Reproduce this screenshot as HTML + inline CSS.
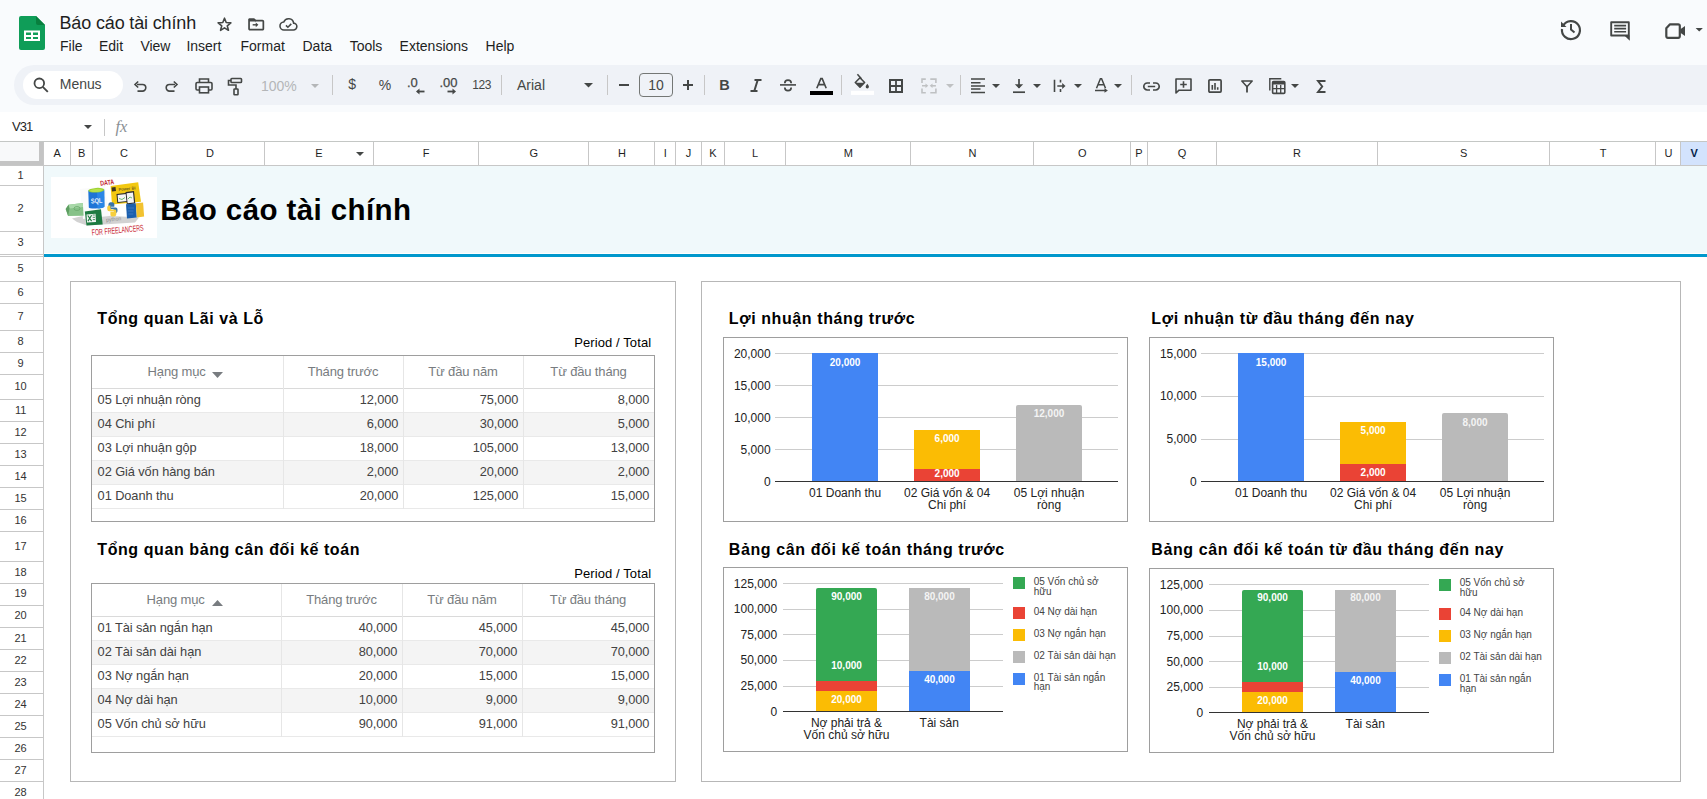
<!DOCTYPE html><html><head><meta charset="utf-8"><style>
html,body{margin:0;padding:0;}
body{width:1707px;height:799px;overflow:hidden;position:relative;background:#f9fbfd;font-family:"Liberation Sans", sans-serif;}
div{box-sizing:border-box;}
svg{position:absolute;overflow:visible;}
</style></head><body>
<svg style="left:19px;top:16px" width="26" height="34" viewBox="0 0 26 34">
<path d="M2 0H17L26 9V32a2 2 0 0 1-2 2H2a2 2 0 0 1-2-2V2a2 2 0 0 1 2-2z" fill="#0f9d58"/>
<path d="M17 0L26 9H19a2 2 0 0 1-2-2z" fill="#087f3e"/>
<path d="M5 14.5H21V25H5z" fill="#fff"/>
<path d="M7 16.5H12V19H7zM14 16.5H19V19H14zM7 21H12V23H7zM14 21H19V23H14z" fill="#0f9d58"/>
</svg>
<div style="position:absolute;left:59.50px;top:12.85px;font-size:18px;line-height:21px;color:#1f1f1f;font-weight:normal;letter-spacing:-0.15px;white-space:nowrap;">Báo cáo tài chính</div>
<svg style="left:216.5px;top:16.5px" width="15" height="15" viewBox="0 0 15 15"><path d="M7.50 1.20 L9.20 5.55 L13.87 5.83 L10.26 8.80 L11.44 13.32 L7.50 10.80 L3.56 13.32 L4.74 8.80 L1.13 5.83 L5.80 5.55Z" fill="none" stroke="#444746" stroke-width="1.6" stroke-linejoin="round"/></svg>
<svg style="left:248px;top:17.6px" width="16.4" height="12.4" viewBox="0 0 17 13"><path d="M1 1.4h5.2l1.6 1.4h7.3a.9 .9 0 0 1 .9 .9v7.6a.9 .9 0 0 1-.9 .9H1.9a.9 .9 0 0 1-.9-.9z" fill="none" stroke="#444746" stroke-width="1.8" stroke-linejoin="round"/><path d="M1 0.6h5.5l1.6 1.5v1.6H1z" fill="#444746"/><path d="M4.8 6.4h3.6v1.5H4.8z" fill="#444746"/><path d="M8 4.6l2.8 2.55L8 9.7z" fill="#444746"/></svg>
<svg style="left:279px;top:16px" width="19" height="16" viewBox="0 0 24 20"><path d="M6.5 17.5h11.5a4.3 4.3 0 0 0 .5-8.6A6.5 6.5 0 0 0 6 7.5a5 5 0 0 0 .5 10z" fill="none" stroke="#444746" stroke-width="2"/><path d="M8.8 11.7l2.4 2.4 4.3-4.3" fill="none" stroke="#444746" stroke-width="2"/></svg>
<div style="position:absolute;left:60.00px;top:38.37px;font-size:14px;line-height:16px;color:#1f1f1f;font-weight:normal;letter-spacing:0px;white-space:nowrap;">File</div>
<div style="position:absolute;left:99.00px;top:38.37px;font-size:14px;line-height:16px;color:#1f1f1f;font-weight:normal;letter-spacing:0px;white-space:nowrap;">Edit</div>
<div style="position:absolute;left:140.40px;top:38.37px;font-size:14px;line-height:16px;color:#1f1f1f;font-weight:normal;letter-spacing:0px;white-space:nowrap;">View</div>
<div style="position:absolute;left:186.40px;top:38.37px;font-size:14px;line-height:16px;color:#1f1f1f;font-weight:normal;letter-spacing:0px;white-space:nowrap;">Insert</div>
<div style="position:absolute;left:240.50px;top:38.37px;font-size:14px;line-height:16px;color:#1f1f1f;font-weight:normal;letter-spacing:0px;white-space:nowrap;">Format</div>
<div style="position:absolute;left:302.50px;top:38.37px;font-size:14px;line-height:16px;color:#1f1f1f;font-weight:normal;letter-spacing:0px;white-space:nowrap;">Data</div>
<div style="position:absolute;left:349.70px;top:38.37px;font-size:14px;line-height:16px;color:#1f1f1f;font-weight:normal;letter-spacing:0px;white-space:nowrap;">Tools</div>
<div style="position:absolute;left:399.60px;top:38.37px;font-size:14px;line-height:16px;color:#1f1f1f;font-weight:normal;letter-spacing:0px;white-space:nowrap;">Extensions</div>
<div style="position:absolute;left:485.60px;top:38.37px;font-size:14px;line-height:16px;color:#1f1f1f;font-weight:normal;letter-spacing:0px;white-space:nowrap;">Help</div>
<svg style="left:1559px;top:17px" width="24" height="24" viewBox="0 0 24 24"><path d="M4.2 8.5A9 9 0 1 1 3 12" fill="none" stroke="#444746" stroke-width="2.2"/><path d="M2 4.5v5.5h5.5z" fill="#444746"/><path d="M12 7v5.5l3.5 3" fill="none" stroke="#444746" stroke-width="2"/></svg>
<svg style="left:1609px;top:20px" width="22" height="22" viewBox="0 0 22 22"><path d="M2.2 2.2h17.6v13.3H2.2z" fill="none" stroke="#444746" stroke-width="1.9" stroke-linejoin="round"/><path d="M15.3 15.4h5.5v5.4z" fill="#444746"/><path d="M5.2 5.65h11.9M5.2 8.6h11.9M5.2 11.7h11.9" stroke="#444746" stroke-width="1.6"/></svg>
<svg style="left:1664px;top:22px" width="42" height="18" viewBox="0 0 42 18"><path d="M6 2.3h8.3a1.5 1.5 0 0 1 1.5 1.5v10.5a1.5 1.5 0 0 1-1.5 1.5H3.8a1.5 1.5 0 0 1-1.5-1.5V6.3z" fill="none" stroke="#444746" stroke-width="2.2" stroke-linejoin="round"/><path d="M16.3 7.3L21 4.1V13.9L16.3 10.7z" fill="#444746"/><path d="M31.6 6.1h7.3l-3.65 3.4z" fill="#444746"/></svg>
<div style="position:absolute;left:14px;top:65px;width:1720px;height:40px;background:#eff2f7;border-radius:20px;"></div>
<div style="position:absolute;left:23px;top:71px;width:100px;height:28px;background:#ffffff;border-radius:14px;"></div>
<svg style="left:33px;top:77px" width="16" height="16" viewBox="0 0 16 16"><circle cx="6.3" cy="6.3" r="4.8" fill="none" stroke="#444746" stroke-width="1.8"/><path d="M9.8 9.8l5 5" stroke="#444746" stroke-width="1.9"/></svg>
<div style="position:absolute;left:59.80px;top:76.07px;font-size:14px;line-height:16px;color:#444746;font-weight:normal;letter-spacing:-0.05px;white-space:nowrap;">Menus</div>
<svg style="left:133px;top:79px" width="14" height="14" viewBox="0 0 14 14"><path d="M4 5.5h5.5a3.3 3.3 0 0 1 0 6.6H4.5" fill="none" stroke="#444746" stroke-width="1.6"/><path d="M5.2 2.5L2 5.5l3.2 3" fill="none" stroke="#444746" stroke-width="1.6"/></svg>
<svg style="left:165px;top:79px" width="14" height="14" viewBox="0 0 14 14"><path d="M10 5.5H4.5a3.3 3.3 0 0 0 0 6.6H9.5" fill="none" stroke="#444746" stroke-width="1.6"/><path d="M8.8 2.5L12 5.5l-3.2 3" fill="none" stroke="#444746" stroke-width="1.6"/></svg>
<svg style="left:195px;top:78px" width="18" height="16" viewBox="0 0 18 16"><path d="M4.5 4.5V1h9v3.5" fill="none" stroke="#444746" stroke-width="1.6"/><rect x="1" y="4.5" width="16" height="7.5" rx="1.2" fill="none" stroke="#444746" stroke-width="1.6"/><rect x="4.5" y="9" width="9" height="5.8" fill="#eff2f7" stroke="#444746" stroke-width="1.6"/></svg>
<svg style="left:227px;top:77px" width="16" height="19" viewBox="0 0 16 19"><rect x="4" y="1.5" width="10.5" height="4" rx="0.8" fill="none" stroke="#444746" stroke-width="1.6"/><path d="M4 3.5H1.5v4.5h7.5v4" fill="none" stroke="#444746" stroke-width="1.6"/><rect x="7" y="12" width="4" height="5.8" rx="0.6" fill="none" stroke="#444746" stroke-width="1.6"/></svg>
<div style="position:absolute;left:261.00px;top:78.07px;font-size:14px;line-height:16px;color:#b4b6b8;font-weight:normal;letter-spacing:0px;white-space:nowrap;">100%</div>
<svg style="left:311px;top:84px" width="8" height="4" viewBox="0 0 8 4"><path d="M0 0h8L4 4z" fill="#b4b6b8"/></svg>
<div style="position:absolute;left:332px;top:75px;width:1px;height:20px;background:#c7c7c7;"></div>
<div style="position:absolute;left:348.20px;top:76.17px;font-size:14px;line-height:16px;color:#444746;font-weight:normal;letter-spacing:0px;white-space:nowrap;font-weight:500;">$</div>
<div style="position:absolute;left:378.80px;top:76.57px;font-size:14px;line-height:16px;color:#444746;font-weight:normal;letter-spacing:0px;white-space:nowrap;">%</div>
<div style="position:absolute;left:407.00px;top:75.40px;font-size:13px;line-height:15px;color:#444746;font-weight:normal;letter-spacing:0px;white-space:nowrap;-webkit-text-stroke:0.25px #444746;">.0</div>
<svg style="left:415px;top:87.5px" width="10" height="7" viewBox="0 0 10 7"><path d="M9.5 3.5H2.5" stroke="#444746" stroke-width="1.8"/><path d="M4.5 0.5L1 3.5 4.5 6.5z" fill="#444746"/></svg>
<div style="position:absolute;left:439.50px;top:75.40px;font-size:13px;line-height:15px;color:#444746;font-weight:normal;letter-spacing:0px;white-space:nowrap;-webkit-text-stroke:0.25px #444746;">.00</div>
<svg style="left:447px;top:87.5px" width="10" height="7" viewBox="0 0 10 7"><path d="M0.5 3.5h6.5" stroke="#444746" stroke-width="1.8"/><path d="M5.5 0.5L9 3.5 5.5 6.5z" fill="#444746"/></svg>
<div style="position:absolute;left:472.30px;top:78.23px;font-size:12px;line-height:14px;color:#444746;font-weight:normal;letter-spacing:-0.4px;white-space:nowrap;">123</div>
<div style="position:absolute;left:501px;top:75px;width:1px;height:20px;background:#c7c7c7;"></div>
<div style="position:absolute;left:517.00px;top:76.97px;font-size:14px;line-height:16px;color:#444746;font-weight:normal;letter-spacing:0px;white-space:nowrap;">Arial</div>
<svg style="left:584px;top:83px" width="9" height="5" viewBox="0 0 9 5"><path d="M0 0h9L4.5 4.5z" fill="#444746"/></svg>
<div style="position:absolute;left:607px;top:75px;width:1px;height:20px;background:#c7c7c7;"></div>
<div style="position:absolute;left:619px;top:83.8px;width:10px;height:2px;background:#444746;"></div>
<div style="position:absolute;left:639px;top:73px;width:34px;height:23.7px;background:transparent;border:1px solid #747775;border-radius:4px;"></div>
<div style="position:absolute;left:356.00px;width:600px;text-align:center;top:77.47px;font-size:14px;line-height:16px;color:#444746;font-weight:normal;letter-spacing:0px;white-space:nowrap;">10</div>
<div style="position:absolute;left:683px;top:83.9px;width:10px;height:2px;background:#444746;"></div>
<div style="position:absolute;left:687px;top:79.8px;width:2px;height:10.3px;background:#444746;"></div>
<div style="position:absolute;left:704px;top:75px;width:1px;height:20px;background:#c7c7c7;"></div>
<div style="position:absolute;left:719.30px;top:77.41px;font-size:14.5px;line-height:17px;color:#444746;font-weight:bold;letter-spacing:0px;white-space:nowrap;">B</div>
<svg style="left:750px;top:79px" width="12" height="13" viewBox="0 0 12 13"><path d="M4.5 1h7M0.5 12h7M7.7 1L4.3 12" fill="none" stroke="#444746" stroke-width="2"/></svg>
<svg style="left:780px;top:78px" width="16" height="15" viewBox="0 0 16 15"><path d="M0 6.9h16" stroke="#444746" stroke-width="1.6"/><path d="M4.8 5.2a3.2 3.1 0 0 1 6.4 0" fill="none" stroke="#444746" stroke-width="1.7"/><path d="M4.8 9.5a3.2 3.1 0 0 0 6.4 0" fill="none" stroke="#444746" stroke-width="1.7"/></svg>
<svg style="left:815.5px;top:78px" width="11" height="11" viewBox="0 0 11 11"><path d="M0.8 10.2L4.8 0.6h1.4l4 9.6M2.6 6.6h5.8" fill="none" stroke="#444746" stroke-width="1.6"/></svg>
<div style="position:absolute;left:810px;top:90.8px;width:23px;height:4.1px;background:#000000;"></div>
<div style="position:absolute;left:841px;top:75px;width:1px;height:20px;background:#c7c7c7;"></div>
<svg style="left:851px;top:74px" width="23" height="21" viewBox="0 0 23 21"><path d="M6.4 0.2l4 4.5" stroke="#444746" stroke-width="1.5"/><path d="M9 3.8l4.6 4.7-4.6 4.6-4.7-4.6z" fill="none" stroke="#444746" stroke-width="1.6" stroke-linejoin="round"/><path d="M4.6 8.7h8.7L9 13z" fill="#444746"/><path d="M16.3 9.8c1 1.4 1.6 2.3 1.6 3a1.6 1.6 0 0 1-3.2 0c0-.7.6-1.6 1.6-3z" fill="#444746"/><rect x="0" y="16.8" width="23" height="4.1" fill="#ffffff"/></svg>
<svg style="left:889px;top:79px" width="14" height="14" viewBox="0 0 14 14"><rect x="1" y="1" width="12" height="12" fill="none" stroke="#444746" stroke-width="2"/><path d="M7 1v12M1 7h12" stroke="#444746" stroke-width="1.8"/></svg>
<svg style="left:920px;top:77px" width="18" height="17" viewBox="0 0 18 17"><g fill="none" stroke="#bfc1c3" stroke-width="1.6"><path d="M5.8 2.1H2v3.9M5.8 15.7H2v-4.2M10.3 2.1h5.6v3.9M10.3 15.7h5.6v-4.2M2 8.8h4"/><path d="M15.9 8.8h-4"/></g><path d="M5.5 6.5l2.8 2.3-2.8 2.3zM12.5 6.5L9.7 8.8l2.8 2.3z" fill="#bfc1c3"/></svg>
<svg style="left:946px;top:84px" width="8" height="4" viewBox="0 0 8 4"><path d="M0 0h8L4 4z" fill="#bfc1c3"/></svg>
<div style="position:absolute;left:960px;top:75px;width:1px;height:20px;background:#c7c7c7;"></div>
<svg style="left:970px;top:78px" width="16" height="16" viewBox="0 0 16 16"><path d="M1 1.1h14M1 4.8h9.5M1 8h14M1 11.1h9.5M1 14.5h14" stroke="#444746" stroke-width="1.5"/></svg>
<svg style="left:992px;top:84px" width="8" height="4" viewBox="0 0 8 4"><path d="M0 0h8L4 4z" fill="#444746"/></svg>
<svg style="left:1012px;top:78px" width="14" height="16" viewBox="0 0 14 16"><path d="M7 1v9" stroke="#444746" stroke-width="1.7"/><path d="M2.8 6.2L7 10.6l4.2-4.4z" fill="#444746"/><path d="M1 14.2h12" stroke="#444746" stroke-width="1.7"/></svg>
<svg style="left:1033px;top:84px" width="8" height="4" viewBox="0 0 8 4"><path d="M0 0h8L4 4z" fill="#444746"/></svg>
<svg style="left:1053px;top:79px" width="14" height="14" viewBox="0 0 14 14"><path d="M1.5 0.8v12.2M7.5 0.8v2.8M7.5 10.1v2.9M4.3 7h5.5" stroke="#444746" stroke-width="1.6"/><path d="M9.2 4.1L12.5 7l-3.3 2.9z" fill="#444746"/></svg>
<svg style="left:1074px;top:84px" width="8" height="4" viewBox="0 0 8 4"><path d="M0 0h8L4 4z" fill="#444746"/></svg>
<svg style="left:1094px;top:78px" width="15" height="17" viewBox="0 0 15 17"><path d="M2.5 10.2L6.4 0.8h1.2l3.9 9.4M4 6.8h6" fill="none" stroke="#444746" stroke-width="1.5"/><path d="M1 12.5h10.5" stroke="#444746" stroke-width="1.5"/><path d="M10.5 10.3l3.4 2.2-3.4 2.2z" fill="#444746"/></svg>
<svg style="left:1114px;top:84px" width="8" height="4" viewBox="0 0 8 4"><path d="M0 0h8L4 4z" fill="#444746"/></svg>
<div style="position:absolute;left:1131px;top:75px;width:1px;height:20px;background:#c7c7c7;"></div>
<svg style="left:1143px;top:81.5px" width="17" height="9" viewBox="0 0 17 9"><path d="M7 1H4.3a3.5 3.5 0 0 0 0 7H7M10 1h2.7a3.5 3.5 0 0 1 0 7H10M4.8 4.5h7.4" fill="none" stroke="#444746" stroke-width="1.7"/></svg>
<svg style="left:1174.5px;top:78px" width="17" height="16" viewBox="0 0 17 16"><path d="M1 1h15v11.2H4L1 15z" fill="none" stroke="#444746" stroke-width="1.6" stroke-linejoin="round"/><path d="M8.5 3.2v6.6M5.2 6.5h6.6" stroke="#444746" stroke-width="1.6"/></svg>
<svg style="left:1208px;top:79px" width="14" height="14" viewBox="0 0 14 14"><rect x="0.9" y="0.9" width="12.2" height="12.2" rx="1" fill="none" stroke="#444746" stroke-width="1.7"/><path d="M4.3 6v4.8M7 4v6.8M9.7 8.3v2.5" stroke="#444746" stroke-width="1.6"/></svg>
<svg style="left:1241px;top:79.5px" width="12" height="13" viewBox="0 0 12 13"><path d="M0.8 1h10.4L6 6.8z" fill="none" stroke="#444746" stroke-width="1.5" stroke-linejoin="round"/><path d="M6 6.5v6" stroke="#444746" stroke-width="1.8"/></svg>
<svg style="left:1268.5px;top:78px" width="17" height="16" viewBox="0 0 17 16"><path d="M0.8 12.5V0.8h11.5" fill="none" stroke="#444746" stroke-width="1.4"/><rect x="3.6" y="3.6" width="12.2" height="11.8" rx="1" fill="none" stroke="#444746" stroke-width="1.6"/><path d="M3.6 5h12.2" stroke="#444746" stroke-width="3"/><path d="M7.6 7v8M11.7 7v8M3.6 10.6h12.2" stroke="#444746" stroke-width="1.3"/></svg>
<svg style="left:1291px;top:84px" width="8" height="4" viewBox="0 0 8 4"><path d="M0 0h8L4 4z" fill="#444746"/></svg>
<svg style="left:1316.5px;top:79.5px" width="9" height="13" viewBox="0 0 9 13"><path d="M8.5 1H1l4.2 5.5L1 12h7.5" fill="none" stroke="#444746" stroke-width="1.9" stroke-linejoin="miter"/></svg>
<div style="position:absolute;left:0px;top:112px;width:1707px;height:30px;background:#ffffff;"></div>
<div style="position:absolute;left:12.00px;top:119.40px;font-size:13px;line-height:15px;color:#1f1f1f;font-weight:normal;letter-spacing:-0.9px;white-space:nowrap;">V31</div>
<svg style="left:84px;top:125px" width="8" height="4" viewBox="0 0 8 4"><path d="M0 0h8L4 4z" fill="#444746"/></svg>
<div style="position:absolute;left:104px;top:119px;width:1px;height:17px;background:#c7c7c7;"></div>
<div style="position:absolute;left:115.50px;top:116.55px;font-size:16.5px;line-height:19px;color:#8a8f94;font-weight:normal;letter-spacing:0px;white-space:nowrap;font-family:'Liberation Serif',serif;"><i>fx</i></div>
<div style="position:absolute;left:0px;top:141px;width:1707px;height:1px;background:#c4c7c5;"></div>
<div style="position:absolute;left:0px;top:142px;width:1707px;height:23px;background:#ffffff;"></div>
<div style="position:absolute;left:0px;top:142px;width:39px;height:19px;background:#f8f9fa;"></div>
<div style="position:absolute;left:39px;top:142px;width:4px;height:23px;background:#c4c4c4;"></div>
<div style="position:absolute;left:0px;top:161px;width:43px;height:4px;background:#c4c4c4;"></div>
<div style="position:absolute;left:1681px;top:142px;width:26px;height:23px;background:#d3e3fd;"></div>
<div style="position:absolute;left:43px;top:142px;width:1px;height:23px;background:#c7c7c7;"></div>
<div style="position:absolute;left:-242.75px;width:600px;text-align:center;top:147.06px;font-size:11px;line-height:13px;color:#1f1f1f;font-weight:normal;letter-spacing:0px;white-space:nowrap;">A</div>
<div style="position:absolute;left:70px;top:142px;width:1px;height:23px;background:#c7c7c7;"></div>
<div style="position:absolute;left:-218.25px;width:600px;text-align:center;top:147.06px;font-size:11px;line-height:13px;color:#1f1f1f;font-weight:normal;letter-spacing:0px;white-space:nowrap;">B</div>
<div style="position:absolute;left:92px;top:142px;width:1px;height:23px;background:#c7c7c7;"></div>
<div style="position:absolute;left:-176.00px;width:600px;text-align:center;top:147.06px;font-size:11px;line-height:13px;color:#1f1f1f;font-weight:normal;letter-spacing:0px;white-space:nowrap;">C</div>
<div style="position:absolute;left:155px;top:142px;width:1px;height:23px;background:#c7c7c7;"></div>
<div style="position:absolute;left:-90.00px;width:600px;text-align:center;top:147.06px;font-size:11px;line-height:13px;color:#1f1f1f;font-weight:normal;letter-spacing:0px;white-space:nowrap;">D</div>
<div style="position:absolute;left:264px;top:142px;width:1px;height:23px;background:#c7c7c7;"></div>
<div style="position:absolute;left:19.00px;width:600px;text-align:center;top:147.06px;font-size:11px;line-height:13px;color:#1f1f1f;font-weight:normal;letter-spacing:0px;white-space:nowrap;">E</div>
<div style="position:absolute;left:373px;top:142px;width:1px;height:23px;background:#c7c7c7;"></div>
<div style="position:absolute;left:126.00px;width:600px;text-align:center;top:147.06px;font-size:11px;line-height:13px;color:#1f1f1f;font-weight:normal;letter-spacing:0px;white-space:nowrap;">F</div>
<div style="position:absolute;left:478px;top:142px;width:1px;height:23px;background:#c7c7c7;"></div>
<div style="position:absolute;left:233.75px;width:600px;text-align:center;top:147.06px;font-size:11px;line-height:13px;color:#1f1f1f;font-weight:normal;letter-spacing:0px;white-space:nowrap;">G</div>
<div style="position:absolute;left:588px;top:142px;width:1px;height:23px;background:#c7c7c7;"></div>
<div style="position:absolute;left:322.00px;width:600px;text-align:center;top:147.06px;font-size:11px;line-height:13px;color:#1f1f1f;font-weight:normal;letter-spacing:0px;white-space:nowrap;">H</div>
<div style="position:absolute;left:654px;top:142px;width:1px;height:23px;background:#c7c7c7;"></div>
<div style="position:absolute;left:365.25px;width:600px;text-align:center;top:147.06px;font-size:11px;line-height:13px;color:#1f1f1f;font-weight:normal;letter-spacing:0px;white-space:nowrap;">I</div>
<div style="position:absolute;left:675px;top:142px;width:1px;height:23px;background:#c7c7c7;"></div>
<div style="position:absolute;left:388.50px;width:600px;text-align:center;top:147.06px;font-size:11px;line-height:13px;color:#1f1f1f;font-weight:normal;letter-spacing:0px;white-space:nowrap;">J</div>
<div style="position:absolute;left:701px;top:142px;width:1px;height:23px;background:#c7c7c7;"></div>
<div style="position:absolute;left:413.00px;width:600px;text-align:center;top:147.06px;font-size:11px;line-height:13px;color:#1f1f1f;font-weight:normal;letter-spacing:0px;white-space:nowrap;">K</div>
<div style="position:absolute;left:724px;top:142px;width:1px;height:23px;background:#c7c7c7;"></div>
<div style="position:absolute;left:455.00px;width:600px;text-align:center;top:147.06px;font-size:11px;line-height:13px;color:#1f1f1f;font-weight:normal;letter-spacing:0px;white-space:nowrap;">L</div>
<div style="position:absolute;left:785px;top:142px;width:1px;height:23px;background:#c7c7c7;"></div>
<div style="position:absolute;left:548.25px;width:600px;text-align:center;top:147.06px;font-size:11px;line-height:13px;color:#1f1f1f;font-weight:normal;letter-spacing:0px;white-space:nowrap;">M</div>
<div style="position:absolute;left:910px;top:142px;width:1px;height:23px;background:#c7c7c7;"></div>
<div style="position:absolute;left:672.50px;width:600px;text-align:center;top:147.06px;font-size:11px;line-height:13px;color:#1f1f1f;font-weight:normal;letter-spacing:0px;white-space:nowrap;">N</div>
<div style="position:absolute;left:1033px;top:142px;width:1px;height:23px;background:#c7c7c7;"></div>
<div style="position:absolute;left:782.25px;width:600px;text-align:center;top:147.06px;font-size:11px;line-height:13px;color:#1f1f1f;font-weight:normal;letter-spacing:0px;white-space:nowrap;">O</div>
<div style="position:absolute;left:1130px;top:142px;width:1px;height:23px;background:#c7c7c7;"></div>
<div style="position:absolute;left:839.00px;width:600px;text-align:center;top:147.06px;font-size:11px;line-height:13px;color:#1f1f1f;font-weight:normal;letter-spacing:0px;white-space:nowrap;">P</div>
<div style="position:absolute;left:1147px;top:142px;width:1px;height:23px;background:#c7c7c7;"></div>
<div style="position:absolute;left:882.00px;width:600px;text-align:center;top:147.06px;font-size:11px;line-height:13px;color:#1f1f1f;font-weight:normal;letter-spacing:0px;white-space:nowrap;">Q</div>
<div style="position:absolute;left:1216px;top:142px;width:1px;height:23px;background:#c7c7c7;"></div>
<div style="position:absolute;left:997.00px;width:600px;text-align:center;top:147.06px;font-size:11px;line-height:13px;color:#1f1f1f;font-weight:normal;letter-spacing:0px;white-space:nowrap;">R</div>
<div style="position:absolute;left:1377px;top:142px;width:1px;height:23px;background:#c7c7c7;"></div>
<div style="position:absolute;left:1163.75px;width:600px;text-align:center;top:147.06px;font-size:11px;line-height:13px;color:#1f1f1f;font-weight:normal;letter-spacing:0px;white-space:nowrap;">S</div>
<div style="position:absolute;left:1549px;top:142px;width:1px;height:23px;background:#c7c7c7;"></div>
<div style="position:absolute;left:1303.00px;width:600px;text-align:center;top:147.06px;font-size:11px;line-height:13px;color:#1f1f1f;font-weight:normal;letter-spacing:0px;white-space:nowrap;">T</div>
<div style="position:absolute;left:1655px;top:142px;width:1px;height:23px;background:#c7c7c7;"></div>
<div style="position:absolute;left:1368.50px;width:600px;text-align:center;top:147.06px;font-size:11px;line-height:13px;color:#1f1f1f;font-weight:normal;letter-spacing:0px;white-space:nowrap;">U</div>
<div style="position:absolute;left:1680px;top:142px;width:1px;height:23px;background:#c7c7c7;"></div>
<div style="position:absolute;left:1394.25px;width:600px;text-align:center;top:147.06px;font-size:11px;line-height:13px;color:#041e49;font-weight:bold;letter-spacing:0px;white-space:nowrap;">V</div>
<svg style="left:356px;top:152px" width="8" height="4" viewBox="0 0 8 4"><path d="M0 0h8L4 4z" fill="#444746"/></svg>
<div style="position:absolute;left:0px;top:165px;width:1707px;height:1px;background:#c7c7c7;"></div>
<div style="position:absolute;left:0px;top:166px;width:43px;height:640px;background:#ffffff;"></div>
<div style="position:absolute;left:43px;top:166px;width:1px;height:640px;background:#c7c7c7;"></div>
<div style="position:absolute;left:44px;top:166px;width:1663px;height:640px;background:#ffffff;"></div>
<div style="position:absolute;left:44px;top:166px;width:1663px;height:87px;background:#f0f9fb;"></div>
<div style="position:absolute;left:44px;top:254px;width:1663px;height:3px;background:#0098cc;"></div>
<div style="position:absolute;left:0px;top:185px;width:43px;height:1px;background:#c7c7c7;"></div>
<div style="position:absolute;left:-279.40px;width:600px;text-align:center;top:168.51px;font-size:11px;line-height:13px;color:#333333;font-weight:normal;letter-spacing:0px;white-space:nowrap;">1</div>
<div style="position:absolute;left:0px;top:231px;width:43px;height:1px;background:#c7c7c7;"></div>
<div style="position:absolute;left:-279.40px;width:600px;text-align:center;top:201.61px;font-size:11px;line-height:13px;color:#333333;font-weight:normal;letter-spacing:0px;white-space:nowrap;">2</div>
<div style="position:absolute;left:0px;top:254px;width:43px;height:1px;background:#c7c7c7;"></div>
<div style="position:absolute;left:-279.40px;width:600px;text-align:center;top:235.86px;font-size:11px;line-height:13px;color:#333333;font-weight:normal;letter-spacing:0px;white-space:nowrap;">3</div>
<div style="position:absolute;left:0px;top:281px;width:43px;height:1px;background:#c7c7c7;"></div>
<div style="position:absolute;left:-279.40px;width:600px;text-align:center;top:261.86px;font-size:11px;line-height:13px;color:#333333;font-weight:normal;letter-spacing:0px;white-space:nowrap;">5</div>
<div style="position:absolute;left:0px;top:303px;width:43px;height:1px;background:#c7c7c7;"></div>
<div style="position:absolute;left:-279.40px;width:600px;text-align:center;top:285.66px;font-size:11px;line-height:13px;color:#333333;font-weight:normal;letter-spacing:0px;white-space:nowrap;">6</div>
<div style="position:absolute;left:0px;top:330px;width:43px;height:1px;background:#c7c7c7;"></div>
<div style="position:absolute;left:-279.40px;width:600px;text-align:center;top:310.26px;font-size:11px;line-height:13px;color:#333333;font-weight:normal;letter-spacing:0px;white-space:nowrap;">7</div>
<div style="position:absolute;left:0px;top:352px;width:43px;height:1px;background:#c7c7c7;"></div>
<div style="position:absolute;left:-279.40px;width:600px;text-align:center;top:334.66px;font-size:11px;line-height:13px;color:#333333;font-weight:normal;letter-spacing:0px;white-space:nowrap;">8</div>
<div style="position:absolute;left:0px;top:374px;width:43px;height:1px;background:#c7c7c7;"></div>
<div style="position:absolute;left:-279.40px;width:600px;text-align:center;top:356.61px;font-size:11px;line-height:13px;color:#333333;font-weight:normal;letter-spacing:0px;white-space:nowrap;">9</div>
<div style="position:absolute;left:0px;top:399px;width:43px;height:1px;background:#c7c7c7;"></div>
<div style="position:absolute;left:-279.40px;width:600px;text-align:center;top:380.16px;font-size:11px;line-height:13px;color:#333333;font-weight:normal;letter-spacing:0px;white-space:nowrap;">10</div>
<div style="position:absolute;left:0px;top:421px;width:43px;height:1px;background:#c7c7c7;"></div>
<div style="position:absolute;left:-279.40px;width:600px;text-align:center;top:403.56px;font-size:11px;line-height:13px;color:#333333;font-weight:normal;letter-spacing:0px;white-space:nowrap;">11</div>
<div style="position:absolute;left:0px;top:443px;width:43px;height:1px;background:#c7c7c7;"></div>
<div style="position:absolute;left:-279.40px;width:600px;text-align:center;top:425.51px;font-size:11px;line-height:13px;color:#333333;font-weight:normal;letter-spacing:0px;white-space:nowrap;">12</div>
<div style="position:absolute;left:0px;top:465px;width:43px;height:1px;background:#c7c7c7;"></div>
<div style="position:absolute;left:-279.40px;width:600px;text-align:center;top:447.71px;font-size:11px;line-height:13px;color:#333333;font-weight:normal;letter-spacing:0px;white-space:nowrap;">13</div>
<div style="position:absolute;left:0px;top:487px;width:43px;height:1px;background:#c7c7c7;"></div>
<div style="position:absolute;left:-279.40px;width:600px;text-align:center;top:469.66px;font-size:11px;line-height:13px;color:#333333;font-weight:normal;letter-spacing:0px;white-space:nowrap;">14</div>
<div style="position:absolute;left:0px;top:509px;width:43px;height:1px;background:#c7c7c7;"></div>
<div style="position:absolute;left:-279.40px;width:600px;text-align:center;top:491.56px;font-size:11px;line-height:13px;color:#333333;font-weight:normal;letter-spacing:0px;white-space:nowrap;">15</div>
<div style="position:absolute;left:0px;top:531px;width:43px;height:1px;background:#c7c7c7;"></div>
<div style="position:absolute;left:-279.40px;width:600px;text-align:center;top:513.61px;font-size:11px;line-height:13px;color:#333333;font-weight:normal;letter-spacing:0px;white-space:nowrap;">16</div>
<div style="position:absolute;left:0px;top:561px;width:43px;height:1px;background:#c7c7c7;"></div>
<div style="position:absolute;left:-279.40px;width:600px;text-align:center;top:539.71px;font-size:11px;line-height:13px;color:#333333;font-weight:normal;letter-spacing:0px;white-space:nowrap;">17</div>
<div style="position:absolute;left:0px;top:583px;width:43px;height:1px;background:#c7c7c7;"></div>
<div style="position:absolute;left:-279.40px;width:600px;text-align:center;top:565.71px;font-size:11px;line-height:13px;color:#333333;font-weight:normal;letter-spacing:0px;white-space:nowrap;">18</div>
<div style="position:absolute;left:0px;top:605px;width:43px;height:1px;background:#c7c7c7;"></div>
<div style="position:absolute;left:-279.40px;width:600px;text-align:center;top:587.46px;font-size:11px;line-height:13px;color:#333333;font-weight:normal;letter-spacing:0px;white-space:nowrap;">19</div>
<div style="position:absolute;left:0px;top:627px;width:43px;height:1px;background:#c7c7c7;"></div>
<div style="position:absolute;left:-279.40px;width:600px;text-align:center;top:609.41px;font-size:11px;line-height:13px;color:#333333;font-weight:normal;letter-spacing:0px;white-space:nowrap;">20</div>
<div style="position:absolute;left:0px;top:649px;width:43px;height:1px;background:#c7c7c7;"></div>
<div style="position:absolute;left:-279.40px;width:600px;text-align:center;top:631.56px;font-size:11px;line-height:13px;color:#333333;font-weight:normal;letter-spacing:0px;white-space:nowrap;">21</div>
<div style="position:absolute;left:0px;top:671px;width:43px;height:1px;background:#c7c7c7;"></div>
<div style="position:absolute;left:-279.40px;width:600px;text-align:center;top:653.51px;font-size:11px;line-height:13px;color:#333333;font-weight:normal;letter-spacing:0px;white-space:nowrap;">22</div>
<div style="position:absolute;left:0px;top:693px;width:43px;height:1px;background:#c7c7c7;"></div>
<div style="position:absolute;left:-279.40px;width:600px;text-align:center;top:675.51px;font-size:11px;line-height:13px;color:#333333;font-weight:normal;letter-spacing:0px;white-space:nowrap;">23</div>
<div style="position:absolute;left:0px;top:715px;width:43px;height:1px;background:#c7c7c7;"></div>
<div style="position:absolute;left:-279.40px;width:600px;text-align:center;top:697.66px;font-size:11px;line-height:13px;color:#333333;font-weight:normal;letter-spacing:0px;white-space:nowrap;">24</div>
<div style="position:absolute;left:0px;top:737px;width:43px;height:1px;background:#c7c7c7;"></div>
<div style="position:absolute;left:-279.40px;width:600px;text-align:center;top:719.71px;font-size:11px;line-height:13px;color:#333333;font-weight:normal;letter-spacing:0px;white-space:nowrap;">25</div>
<div style="position:absolute;left:0px;top:759px;width:43px;height:1px;background:#c7c7c7;"></div>
<div style="position:absolute;left:-279.40px;width:600px;text-align:center;top:741.61px;font-size:11px;line-height:13px;color:#333333;font-weight:normal;letter-spacing:0px;white-space:nowrap;">26</div>
<div style="position:absolute;left:0px;top:781px;width:43px;height:1px;background:#c7c7c7;"></div>
<div style="position:absolute;left:-279.40px;width:600px;text-align:center;top:763.51px;font-size:11px;line-height:13px;color:#333333;font-weight:normal;letter-spacing:0px;white-space:nowrap;">27</div>
<div style="position:absolute;left:-279.40px;width:600px;text-align:center;top:786.36px;font-size:11px;line-height:13px;color:#333333;font-weight:normal;letter-spacing:0px;white-space:nowrap;">28</div>
<div style="position:absolute;left:0px;top:254px;width:43px;height:1px;background:#c7c7c7;"></div>
<div style="position:absolute;left:0px;top:256px;width:43px;height:1px;background:#c7c7c7;"></div>
<svg style="left:51px;top:177px" width="106" height="61" viewBox="0 0 106 61">
<rect width="106" height="61" fill="#ffffff"/>
<path d="M21 41.5L36 38 L62 39 L88 40.5 L84 45.5 L36 48.5 L26 45z" fill="#d2d2d2"/>
<path d="M29 12l25-3 4 30-26 3z" fill="#fbfbfb"/>
<path d="M14.7 32.1L17.5 27.7L31.8 26L32.6 38.7L17.1 39z" fill="#86c288"/>
<path d="M17.5 27.7L31.8 26L32 30L18.5 31.5z" fill="#a8d8a8"/>
<path d="M14.7 32.1L17.5 27.7L18.5 31.5L17.1 39z" fill="#5e9e62"/>
<ellipse cx="26" cy="31.5" rx="3" ry="2" fill="none" stroke="#6aa86c" stroke-width="0.8"/>
<path d="M37.3 13.6L53.2 12.6L53.4 29.5C53.4 31.5 38 32.3 37.8 30.5z" fill="#1e74d6"/>
<path d="M46 13L53.2 12.6L53.4 29.5C53.4 30.8 49 31.5 46.5 31.6z" fill="#2a86e6"/>
<ellipse cx="45.2" cy="13.2" rx="7.9" ry="2.3" fill="#9ad22e" transform="rotate(-4 45.2 13.2)"/>
<ellipse cx="45.2" cy="13.4" rx="6.3" ry="1.5" fill="#b8e04a" transform="rotate(-4 45.2 13.4)"/>
<text x="39.7" y="26.2" font-family="Liberation Sans" font-size="7" font-weight="bold" fill="#e8f1fb" textLength="11.5" lengthAdjust="spacingAndGlyphs" transform="rotate(-4 45 23)">SQL</text>
<path d="M33.8 34.5L50 32.3L51.7 47.5L35.5 48.5z" fill="#1d7a40"/>
<path d="M35.5 37.5L44.5 36.7L45 45L36 45.6z" fill="#f4f4f4"/>
<path d="M36.8 38.5l3.8 5.6M40.6 38.3l-3.6 5.8" stroke="#1d7a40" stroke-width="1.1"/>
<path d="M41.6 38h2.3M41.7 40.3h2.3M41.8 42.6h2.3" stroke="#1d7a40" stroke-width="0.8"/>
<path d="M59.6 9L87.2 5.3L90 24.8L61 27.5z" fill="#f2c811"/>
<path d="M60.5 10.5l4-0.5 .5 4-4 .5z" fill="#3a3320"/>
<text x="67.5" y="13.2" font-family="Liberation Sans" font-size="4.2" fill="#3a3320" textLength="17" lengthAdjust="spacingAndGlyphs" transform="rotate(-6 76 12)">Power BI</text>
<path d="M65.5 17l11-1.2 .8 9-11 1.2z" fill="#2c2c2c"/><path d="M66.6 18.1l8.9-1 .6 6.8-8.9 1z" fill="#f6f6f6"/>
<path d="M74.5 15l8.5-1 1.3 12.5-8.5 1z" fill="#2c2c2c"/><path d="M75.6 16.2l6.4-.7 1 10-6.4.7z" fill="#f4f4f4"/>
<path d="M68 21.5l3 1 3-2M77 22l2-2 2 1" stroke="#4caf50" stroke-width="0.8" fill="none"/>
<g transform="translate(61 32.2) scale(0.8) translate(-61 -32.2)"><path d="M56.5 26.5c0-2.6 1.8-3.1 3.8-3.1 2.2 0 3.6.6 3.6 2.6v3.2h-4.3v.8h5.8c2 0 2.5 1.6 2.5 3.6 0 2.1-.6 3.4-2.5 3.4h-1.5v-2.3c0-1.5-1.2-2.6-2.5-2.6h-3.1c-1.1 0-1.8-.8-1.8-1.9z" fill="#3a74a8"/>
<path d="M66.4 38.2c0 2.6-1.8 3.1-3.8 3.1-2.2 0-3.6-.6-3.6-2.6v-3.2h4.3v-.8h-5.8c-2 0-2.5-1.6-2.5-3.6 0-2.1.6-3.4 2.5-3.4h1.5v2.3c0 1.5 1.2 2.6 2.5 2.6h3.1c1.1 0 1.8.8 1.8 1.9z" fill="#f7cf3d"/></g>
<text x="55" y="44" font-family="Liberation Sans" font-size="5.4" fill="#8a8a8a" textLength="15" lengthAdjust="spacingAndGlyphs" transform="rotate(-6 62 42)">python</text>
<path d="M75 27.2l9.8-1 1 14.2-9.8 1z" fill="#1b5fae"/>
<path d="M84.8 26.2l7.3-.8 1 14.1-7.3.9z" fill="#f2c230"/>
<path d="M77 31h6M77 34h5.5M77.3 37h5" stroke="#5b8fd0" stroke-width="0.5"/>
<text x="49" y="8" font-family="Liberation Sans" font-size="7" font-weight="bold" fill="#c0262e" textLength="14" lengthAdjust="spacingAndGlyphs" transform="rotate(-7 56 5)">DATA</text>
<text x="40.5" y="56.2" font-family="Liberation Sans" font-size="8.6" fill="#c8222f" textLength="52" lengthAdjust="spacingAndGlyphs" transform="rotate(-5.5 66 52)">FOR FREELANCERS</text>
</svg>
<div style="position:absolute;left:160.30px;top:193.15px;font-size:29.5px;line-height:34px;color:#000000;font-weight:bold;letter-spacing:0.4px;white-space:nowrap;">Báo cáo tài chính</div>
<div style="position:absolute;left:70px;top:281px;width:606px;height:501px;background:#ffffff;border:1px solid #b7b7b7;"></div>
<div style="position:absolute;left:701px;top:281px;width:980px;height:501px;background:#ffffff;border:1px solid #b7b7b7;"></div>
<div style="position:absolute;left:97.30px;top:310.11px;font-size:16px;line-height:18px;color:#000000;font-weight:bold;letter-spacing:0.58px;white-space:nowrap;">Tổng quan Lãi và Lỗ</div>
<div style="position:absolute;right:1055.80px;text-align:right;top:335.10px;font-size:13px;line-height:15px;color:#000000;font-weight:normal;letter-spacing:0.1px;white-space:nowrap;">Period / Total</div>
<div style="position:absolute;left:91px;top:355px;width:564px;height:166.5px;background:#ffffff;border:1px solid #9e9e9e;"></div>
<div style="position:absolute;left:92px;top:412px;width:562px;height:1px;background:#e9e9e9;"></div>
<div style="position:absolute;left:92px;top:413px;width:562px;height:23px;background:#f4f4f4;"></div>
<div style="position:absolute;left:92px;top:436px;width:562px;height:1px;background:#e9e9e9;"></div>
<div style="position:absolute;left:92px;top:460px;width:562px;height:1px;background:#e9e9e9;"></div>
<div style="position:absolute;left:92px;top:461px;width:562px;height:23px;background:#f4f4f4;"></div>
<div style="position:absolute;left:92px;top:484px;width:562px;height:1px;background:#e9e9e9;"></div>
<div style="position:absolute;left:92px;top:508px;width:562px;height:1px;background:#e9e9e9;"></div>
<div style="position:absolute;left:92px;top:388px;width:562px;height:1px;background:#dadada;"></div>
<div style="position:absolute;left:283px;top:356px;width:1px;height:153px;background:#e6e6e6;"></div>
<div style="position:absolute;left:403px;top:356px;width:1px;height:153px;background:#e6e6e6;"></div>
<div style="position:absolute;left:523px;top:356px;width:1px;height:153px;background:#e6e6e6;"></div>
<div style="position:absolute;left:147.60px;top:364.00px;font-size:13px;line-height:15px;color:#787c80;font-weight:normal;letter-spacing:-0.15px;white-space:nowrap;">Hạng mục</div>
<div style="position:absolute;left:43.00px;width:600px;text-align:center;top:364.00px;font-size:13px;line-height:15px;color:#787c80;font-weight:normal;letter-spacing:-0.15px;white-space:nowrap;">Tháng trước</div>
<div style="position:absolute;left:163.00px;width:600px;text-align:center;top:364.00px;font-size:13px;line-height:15px;color:#787c80;font-weight:normal;letter-spacing:-0.15px;white-space:nowrap;">Từ đầu năm</div>
<div style="position:absolute;left:288.50px;width:600px;text-align:center;top:364.00px;font-size:13px;line-height:15px;color:#787c80;font-weight:normal;letter-spacing:-0.15px;white-space:nowrap;">Từ đầu tháng</div>
<svg style="left:212px;top:371.5px" width="11" height="6" viewBox="0 0 11 6"><path d="M0 0h11L5.5 6z" fill="#787c80"/></svg>
<div style="position:absolute;left:97.60px;top:392.17px;font-size:12.8px;line-height:15px;color:#424242;font-weight:normal;letter-spacing:-0.08px;white-space:nowrap;">05 Lợi nhuận ròng</div>
<div style="position:absolute;right:1308.60px;text-align:right;top:392.17px;font-size:12.8px;line-height:15px;color:#424242;font-weight:normal;letter-spacing:-0.08px;white-space:nowrap;">12,000</div>
<div style="position:absolute;right:1188.60px;text-align:right;top:392.17px;font-size:12.8px;line-height:15px;color:#424242;font-weight:normal;letter-spacing:-0.08px;white-space:nowrap;">75,000</div>
<div style="position:absolute;right:1057.60px;text-align:right;top:392.17px;font-size:12.8px;line-height:15px;color:#424242;font-weight:normal;letter-spacing:-0.08px;white-space:nowrap;">8,000</div>
<div style="position:absolute;left:97.60px;top:416.17px;font-size:12.8px;line-height:15px;color:#424242;font-weight:normal;letter-spacing:-0.08px;white-space:nowrap;">04 Chi phí</div>
<div style="position:absolute;right:1308.60px;text-align:right;top:416.17px;font-size:12.8px;line-height:15px;color:#424242;font-weight:normal;letter-spacing:-0.08px;white-space:nowrap;">6,000</div>
<div style="position:absolute;right:1188.60px;text-align:right;top:416.17px;font-size:12.8px;line-height:15px;color:#424242;font-weight:normal;letter-spacing:-0.08px;white-space:nowrap;">30,000</div>
<div style="position:absolute;right:1057.60px;text-align:right;top:416.17px;font-size:12.8px;line-height:15px;color:#424242;font-weight:normal;letter-spacing:-0.08px;white-space:nowrap;">5,000</div>
<div style="position:absolute;left:97.60px;top:440.17px;font-size:12.8px;line-height:15px;color:#424242;font-weight:normal;letter-spacing:-0.08px;white-space:nowrap;">03 Lợi nhuận gộp</div>
<div style="position:absolute;right:1308.60px;text-align:right;top:440.17px;font-size:12.8px;line-height:15px;color:#424242;font-weight:normal;letter-spacing:-0.08px;white-space:nowrap;">18,000</div>
<div style="position:absolute;right:1188.60px;text-align:right;top:440.17px;font-size:12.8px;line-height:15px;color:#424242;font-weight:normal;letter-spacing:-0.08px;white-space:nowrap;">105,000</div>
<div style="position:absolute;right:1057.60px;text-align:right;top:440.17px;font-size:12.8px;line-height:15px;color:#424242;font-weight:normal;letter-spacing:-0.08px;white-space:nowrap;">13,000</div>
<div style="position:absolute;left:97.60px;top:464.17px;font-size:12.8px;line-height:15px;color:#424242;font-weight:normal;letter-spacing:-0.08px;white-space:nowrap;">02 Giá vốn hàng bán</div>
<div style="position:absolute;right:1308.60px;text-align:right;top:464.17px;font-size:12.8px;line-height:15px;color:#424242;font-weight:normal;letter-spacing:-0.08px;white-space:nowrap;">2,000</div>
<div style="position:absolute;right:1188.60px;text-align:right;top:464.17px;font-size:12.8px;line-height:15px;color:#424242;font-weight:normal;letter-spacing:-0.08px;white-space:nowrap;">20,000</div>
<div style="position:absolute;right:1057.60px;text-align:right;top:464.17px;font-size:12.8px;line-height:15px;color:#424242;font-weight:normal;letter-spacing:-0.08px;white-space:nowrap;">2,000</div>
<div style="position:absolute;left:97.60px;top:488.17px;font-size:12.8px;line-height:15px;color:#424242;font-weight:normal;letter-spacing:-0.08px;white-space:nowrap;">01 Doanh thu</div>
<div style="position:absolute;right:1308.60px;text-align:right;top:488.17px;font-size:12.8px;line-height:15px;color:#424242;font-weight:normal;letter-spacing:-0.08px;white-space:nowrap;">20,000</div>
<div style="position:absolute;right:1188.60px;text-align:right;top:488.17px;font-size:12.8px;line-height:15px;color:#424242;font-weight:normal;letter-spacing:-0.08px;white-space:nowrap;">125,000</div>
<div style="position:absolute;right:1057.60px;text-align:right;top:488.17px;font-size:12.8px;line-height:15px;color:#424242;font-weight:normal;letter-spacing:-0.08px;white-space:nowrap;">15,000</div>
<div style="position:absolute;left:97.30px;top:540.81px;font-size:16px;line-height:18px;color:#000000;font-weight:bold;letter-spacing:0.58px;white-space:nowrap;">Tổng quan bảng cân đối kế toán</div>
<div style="position:absolute;right:1055.80px;text-align:right;top:566.10px;font-size:13px;line-height:15px;color:#000000;font-weight:normal;letter-spacing:0.1px;white-space:nowrap;">Period / Total</div>
<div style="position:absolute;left:91px;top:583px;width:564px;height:169.5px;background:#ffffff;border:1px solid #9e9e9e;"></div>
<div style="position:absolute;left:92px;top:640px;width:562px;height:1px;background:#e9e9e9;"></div>
<div style="position:absolute;left:92px;top:641px;width:562px;height:23px;background:#f4f4f4;"></div>
<div style="position:absolute;left:92px;top:664px;width:562px;height:1px;background:#e9e9e9;"></div>
<div style="position:absolute;left:92px;top:688px;width:562px;height:1px;background:#e9e9e9;"></div>
<div style="position:absolute;left:92px;top:689px;width:562px;height:23px;background:#f4f4f4;"></div>
<div style="position:absolute;left:92px;top:712px;width:562px;height:1px;background:#e9e9e9;"></div>
<div style="position:absolute;left:92px;top:736px;width:562px;height:1px;background:#e9e9e9;"></div>
<div style="position:absolute;left:92px;top:616px;width:562px;height:1px;background:#dadada;"></div>
<div style="position:absolute;left:281px;top:584px;width:1px;height:153px;background:#e6e6e6;"></div>
<div style="position:absolute;left:402px;top:584px;width:1px;height:153px;background:#e6e6e6;"></div>
<div style="position:absolute;left:522px;top:584px;width:1px;height:153px;background:#e6e6e6;"></div>
<div style="position:absolute;left:146.60px;top:592.00px;font-size:13px;line-height:15px;color:#787c80;font-weight:normal;letter-spacing:-0.15px;white-space:nowrap;">Hạng mục</div>
<div style="position:absolute;left:41.50px;width:600px;text-align:center;top:592.00px;font-size:13px;line-height:15px;color:#787c80;font-weight:normal;letter-spacing:-0.15px;white-space:nowrap;">Tháng trước</div>
<div style="position:absolute;left:162.00px;width:600px;text-align:center;top:592.00px;font-size:13px;line-height:15px;color:#787c80;font-weight:normal;letter-spacing:-0.15px;white-space:nowrap;">Từ đầu năm</div>
<div style="position:absolute;left:288.00px;width:600px;text-align:center;top:592.00px;font-size:13px;line-height:15px;color:#787c80;font-weight:normal;letter-spacing:-0.15px;white-space:nowrap;">Từ đầu tháng</div>
<svg style="left:211.5px;top:599.8px" width="11" height="6" viewBox="0 0 11 6"><path d="M0 6h11L5.5 0z" fill="#787c80"/></svg>
<div style="position:absolute;left:97.60px;top:620.17px;font-size:12.8px;line-height:15px;color:#424242;font-weight:normal;letter-spacing:-0.08px;white-space:nowrap;">01 Tài sản ngắn hạn</div>
<div style="position:absolute;right:1309.60px;text-align:right;top:620.17px;font-size:12.8px;line-height:15px;color:#424242;font-weight:normal;letter-spacing:-0.08px;white-space:nowrap;">40,000</div>
<div style="position:absolute;right:1189.60px;text-align:right;top:620.17px;font-size:12.8px;line-height:15px;color:#424242;font-weight:normal;letter-spacing:-0.08px;white-space:nowrap;">45,000</div>
<div style="position:absolute;right:1057.60px;text-align:right;top:620.17px;font-size:12.8px;line-height:15px;color:#424242;font-weight:normal;letter-spacing:-0.08px;white-space:nowrap;">45,000</div>
<div style="position:absolute;left:97.60px;top:644.17px;font-size:12.8px;line-height:15px;color:#424242;font-weight:normal;letter-spacing:-0.08px;white-space:nowrap;">02 Tài sản dài hạn</div>
<div style="position:absolute;right:1309.60px;text-align:right;top:644.17px;font-size:12.8px;line-height:15px;color:#424242;font-weight:normal;letter-spacing:-0.08px;white-space:nowrap;">80,000</div>
<div style="position:absolute;right:1189.60px;text-align:right;top:644.17px;font-size:12.8px;line-height:15px;color:#424242;font-weight:normal;letter-spacing:-0.08px;white-space:nowrap;">70,000</div>
<div style="position:absolute;right:1057.60px;text-align:right;top:644.17px;font-size:12.8px;line-height:15px;color:#424242;font-weight:normal;letter-spacing:-0.08px;white-space:nowrap;">70,000</div>
<div style="position:absolute;left:97.60px;top:668.17px;font-size:12.8px;line-height:15px;color:#424242;font-weight:normal;letter-spacing:-0.08px;white-space:nowrap;">03 Nợ ngắn hạn</div>
<div style="position:absolute;right:1309.60px;text-align:right;top:668.17px;font-size:12.8px;line-height:15px;color:#424242;font-weight:normal;letter-spacing:-0.08px;white-space:nowrap;">20,000</div>
<div style="position:absolute;right:1189.60px;text-align:right;top:668.17px;font-size:12.8px;line-height:15px;color:#424242;font-weight:normal;letter-spacing:-0.08px;white-space:nowrap;">15,000</div>
<div style="position:absolute;right:1057.60px;text-align:right;top:668.17px;font-size:12.8px;line-height:15px;color:#424242;font-weight:normal;letter-spacing:-0.08px;white-space:nowrap;">15,000</div>
<div style="position:absolute;left:97.60px;top:692.17px;font-size:12.8px;line-height:15px;color:#424242;font-weight:normal;letter-spacing:-0.08px;white-space:nowrap;">04 Nợ dài hạn</div>
<div style="position:absolute;right:1309.60px;text-align:right;top:692.17px;font-size:12.8px;line-height:15px;color:#424242;font-weight:normal;letter-spacing:-0.08px;white-space:nowrap;">10,000</div>
<div style="position:absolute;right:1189.60px;text-align:right;top:692.17px;font-size:12.8px;line-height:15px;color:#424242;font-weight:normal;letter-spacing:-0.08px;white-space:nowrap;">9,000</div>
<div style="position:absolute;right:1057.60px;text-align:right;top:692.17px;font-size:12.8px;line-height:15px;color:#424242;font-weight:normal;letter-spacing:-0.08px;white-space:nowrap;">9,000</div>
<div style="position:absolute;left:97.60px;top:716.17px;font-size:12.8px;line-height:15px;color:#424242;font-weight:normal;letter-spacing:-0.08px;white-space:nowrap;">05 Vốn chủ sở hữu</div>
<div style="position:absolute;right:1309.60px;text-align:right;top:716.17px;font-size:12.8px;line-height:15px;color:#424242;font-weight:normal;letter-spacing:-0.08px;white-space:nowrap;">90,000</div>
<div style="position:absolute;right:1189.60px;text-align:right;top:716.17px;font-size:12.8px;line-height:15px;color:#424242;font-weight:normal;letter-spacing:-0.08px;white-space:nowrap;">91,000</div>
<div style="position:absolute;right:1057.60px;text-align:right;top:716.17px;font-size:12.8px;line-height:15px;color:#424242;font-weight:normal;letter-spacing:-0.08px;white-space:nowrap;">91,000</div>
<div style="position:absolute;left:723px;top:337px;width:405px;height:185px;background:#ffffff;border:1px solid #9e9e9e;"></div>
<div style="position:absolute;left:728.80px;top:309.71px;font-size:16px;line-height:18px;color:#000000;font-weight:bold;letter-spacing:0.6px;white-space:nowrap;">Lợi nhuận tháng trước</div>
<div style="position:absolute;left:775px;top:353px;width:343px;height:1px;background:#cccccc;"></div>
<div style="position:absolute;right:936.40px;text-align:right;top:346.63px;font-size:12px;line-height:14px;color:#222222;font-weight:normal;letter-spacing:0px;white-space:nowrap;">20,000</div>
<div style="position:absolute;left:775px;top:385px;width:343px;height:1px;background:#cccccc;"></div>
<div style="position:absolute;right:936.40px;text-align:right;top:378.63px;font-size:12px;line-height:14px;color:#222222;font-weight:normal;letter-spacing:0px;white-space:nowrap;">15,000</div>
<div style="position:absolute;left:775px;top:417px;width:343px;height:1px;background:#cccccc;"></div>
<div style="position:absolute;right:936.40px;text-align:right;top:410.63px;font-size:12px;line-height:14px;color:#222222;font-weight:normal;letter-spacing:0px;white-space:nowrap;">10,000</div>
<div style="position:absolute;left:775px;top:449px;width:343px;height:1px;background:#cccccc;"></div>
<div style="position:absolute;right:936.40px;text-align:right;top:442.63px;font-size:12px;line-height:14px;color:#222222;font-weight:normal;letter-spacing:0px;white-space:nowrap;">5,000</div>
<div style="position:absolute;right:936.40px;text-align:right;top:474.63px;font-size:12px;line-height:14px;color:#222222;font-weight:normal;letter-spacing:0px;white-space:nowrap;">0</div>
<div style="position:absolute;left:775px;top:481px;width:343px;height:1.3px;background:#333333;"></div>
<div style="position:absolute;left:812.3px;top:353.3px;width:65.6px;height:128.0px;background:#4285f4;"></div>
<div style="position:absolute;left:545.10px;width:600px;text-align:center;top:356.60px;font-size:10px;line-height:12px;color:#ffffff;font-weight:bold;letter-spacing:0px;white-space:nowrap;">20,000</div>
<div style="position:absolute;left:914.3px;top:430.1px;width:65.6px;height:51.2px;background:#fbbc04;"></div>
<div style="position:absolute;left:914.3px;top:468.5px;width:65.6px;height:12.8px;background:#ea4335;"></div>
<div style="position:absolute;left:647.10px;width:600px;text-align:center;top:468.39px;font-size:10px;line-height:12px;color:#ffffff;font-weight:bold;letter-spacing:0px;white-space:nowrap;">2,000</div>
<div style="position:absolute;left:647.10px;width:600px;text-align:center;top:433.19px;font-size:10px;line-height:12px;color:#ffffff;font-weight:bold;letter-spacing:0px;white-space:nowrap;">6,000</div>
<div style="position:absolute;left:1016.2px;top:404.5px;width:65.6px;height:76.8px;background:#bababa;border-radius:2px 2px 0 0;"></div>
<div style="position:absolute;left:749.00px;width:600px;text-align:center;top:408.00px;font-size:10px;line-height:12px;color:#f4f4f4;font-weight:bold;letter-spacing:0px;white-space:nowrap;">12,000</div>
<div style="position:absolute;left:545.10px;width:600px;text-align:center;top:486.33px;font-size:12px;line-height:14px;color:#222222;font-weight:normal;letter-spacing:0px;white-space:nowrap;">01 Doanh thu</div>
<div style="position:absolute;left:647.10px;width:600px;text-align:center;top:486.33px;font-size:12px;line-height:14px;color:#222222;font-weight:normal;letter-spacing:0px;white-space:nowrap;">02 Giá vốn &amp; 04</div>
<div style="position:absolute;left:647.10px;width:600px;text-align:center;top:497.83px;font-size:12px;line-height:14px;color:#222222;font-weight:normal;letter-spacing:0px;white-space:nowrap;">Chi phí</div>
<div style="position:absolute;left:749.10px;width:600px;text-align:center;top:486.33px;font-size:12px;line-height:14px;color:#222222;font-weight:normal;letter-spacing:0px;white-space:nowrap;">05 Lợi nhuận</div>
<div style="position:absolute;left:749.10px;width:600px;text-align:center;top:497.83px;font-size:12px;line-height:14px;color:#222222;font-weight:normal;letter-spacing:0px;white-space:nowrap;">ròng</div>
<div style="position:absolute;left:1149px;top:337px;width:405px;height:185px;background:#ffffff;border:1px solid #9e9e9e;"></div>
<div style="position:absolute;left:1151.30px;top:309.71px;font-size:16px;line-height:18px;color:#000000;font-weight:bold;letter-spacing:0.6px;white-space:nowrap;">Lợi nhuận từ đầu tháng đến nay</div>
<div style="position:absolute;left:1201px;top:353px;width:343px;height:1px;background:#cccccc;"></div>
<div style="position:absolute;right:510.40px;text-align:right;top:346.63px;font-size:12px;line-height:14px;color:#222222;font-weight:normal;letter-spacing:0px;white-space:nowrap;">15,000</div>
<div style="position:absolute;left:1201px;top:396px;width:343px;height:1px;background:#cccccc;"></div>
<div style="position:absolute;right:510.40px;text-align:right;top:389.30px;font-size:12px;line-height:14px;color:#222222;font-weight:normal;letter-spacing:0px;white-space:nowrap;">10,000</div>
<div style="position:absolute;left:1201px;top:439px;width:343px;height:1px;background:#cccccc;"></div>
<div style="position:absolute;right:510.40px;text-align:right;top:431.97px;font-size:12px;line-height:14px;color:#222222;font-weight:normal;letter-spacing:0px;white-space:nowrap;">5,000</div>
<div style="position:absolute;right:510.40px;text-align:right;top:474.63px;font-size:12px;line-height:14px;color:#222222;font-weight:normal;letter-spacing:0px;white-space:nowrap;">0</div>
<div style="position:absolute;left:1201px;top:481px;width:343px;height:1.3px;background:#333333;"></div>
<div style="position:absolute;left:1238.3px;top:353.3px;width:65.6px;height:128.0px;background:#4285f4;"></div>
<div style="position:absolute;left:971.10px;width:600px;text-align:center;top:356.60px;font-size:10px;line-height:12px;color:#ffffff;font-weight:bold;letter-spacing:0px;white-space:nowrap;">15,000</div>
<div style="position:absolute;left:1340.3px;top:421.56666666666666px;width:65.6px;height:59.733333333333334px;background:#fbbc04;"></div>
<div style="position:absolute;left:1340.3px;top:464.23333333333335px;width:65.6px;height:17.066666666666666px;background:#ea4335;"></div>
<div style="position:absolute;left:1073.10px;width:600px;text-align:center;top:467.06px;font-size:10px;line-height:12px;color:#ffffff;font-weight:bold;letter-spacing:0px;white-space:nowrap;">2,000</div>
<div style="position:absolute;left:1073.10px;width:600px;text-align:center;top:424.66px;font-size:10px;line-height:12px;color:#ffffff;font-weight:bold;letter-spacing:0px;white-space:nowrap;">5,000</div>
<div style="position:absolute;left:1442.2px;top:413.03333333333336px;width:65.6px;height:68.26666666666667px;background:#bababa;border-radius:2px 2px 0 0;"></div>
<div style="position:absolute;left:1175.00px;width:600px;text-align:center;top:416.53px;font-size:10px;line-height:12px;color:#f4f4f4;font-weight:bold;letter-spacing:0px;white-space:nowrap;">8,000</div>
<div style="position:absolute;left:971.10px;width:600px;text-align:center;top:486.33px;font-size:12px;line-height:14px;color:#222222;font-weight:normal;letter-spacing:0px;white-space:nowrap;">01 Doanh thu</div>
<div style="position:absolute;left:1073.10px;width:600px;text-align:center;top:486.33px;font-size:12px;line-height:14px;color:#222222;font-weight:normal;letter-spacing:0px;white-space:nowrap;">02 Giá vốn &amp; 04</div>
<div style="position:absolute;left:1073.10px;width:600px;text-align:center;top:497.83px;font-size:12px;line-height:14px;color:#222222;font-weight:normal;letter-spacing:0px;white-space:nowrap;">Chi phí</div>
<div style="position:absolute;left:1175.10px;width:600px;text-align:center;top:486.33px;font-size:12px;line-height:14px;color:#222222;font-weight:normal;letter-spacing:0px;white-space:nowrap;">05 Lợi nhuận</div>
<div style="position:absolute;left:1175.10px;width:600px;text-align:center;top:497.83px;font-size:12px;line-height:14px;color:#222222;font-weight:normal;letter-spacing:0px;white-space:nowrap;">ròng</div>
<div style="position:absolute;left:723px;top:567px;width:405px;height:185px;background:#ffffff;border:1px solid #9e9e9e;"></div>
<div style="position:absolute;left:728.80px;top:541.01px;font-size:16px;line-height:18px;color:#000000;font-weight:bold;letter-spacing:0.6px;white-space:nowrap;">Bảng cân đối kế toán tháng trước</div>
<div style="position:absolute;left:782.5px;top:583px;width:220px;height:1px;background:#cccccc;"></div>
<div style="position:absolute;right:929.80px;text-align:right;top:576.63px;font-size:12px;line-height:14px;color:#222222;font-weight:normal;letter-spacing:0px;white-space:nowrap;">125,000</div>
<div style="position:absolute;left:782.5px;top:609px;width:220px;height:1px;background:#cccccc;"></div>
<div style="position:absolute;right:929.80px;text-align:right;top:602.23px;font-size:12px;line-height:14px;color:#222222;font-weight:normal;letter-spacing:0px;white-space:nowrap;">100,000</div>
<div style="position:absolute;left:782.5px;top:634px;width:220px;height:1px;background:#cccccc;"></div>
<div style="position:absolute;right:929.80px;text-align:right;top:627.83px;font-size:12px;line-height:14px;color:#222222;font-weight:normal;letter-spacing:0px;white-space:nowrap;">75,000</div>
<div style="position:absolute;left:782.5px;top:660px;width:220px;height:1px;background:#cccccc;"></div>
<div style="position:absolute;right:929.80px;text-align:right;top:653.43px;font-size:12px;line-height:14px;color:#222222;font-weight:normal;letter-spacing:0px;white-space:nowrap;">50,000</div>
<div style="position:absolute;left:782.5px;top:686px;width:220px;height:1px;background:#cccccc;"></div>
<div style="position:absolute;right:929.80px;text-align:right;top:679.03px;font-size:12px;line-height:14px;color:#222222;font-weight:normal;letter-spacing:0px;white-space:nowrap;">25,000</div>
<div style="position:absolute;right:929.80px;text-align:right;top:704.63px;font-size:12px;line-height:14px;color:#222222;font-weight:normal;letter-spacing:0px;white-space:nowrap;">0</div>
<div style="position:absolute;left:782.5px;top:711px;width:220px;height:1.3px;background:#333333;"></div>
<div style="position:absolute;left:816.1px;top:588.42px;width:60.9px;height:122.88px;background:#34a853;border-radius:2px 2px 0 0;"></div>
<div style="position:absolute;left:816.1px;top:680.5799999999999px;width:60.9px;height:30.72px;background:#ea4335;"></div>
<div style="position:absolute;left:816.1px;top:690.8199999999999px;width:60.9px;height:20.48px;background:#fbbc04;"></div>
<div style="position:absolute;left:546.55px;width:600px;text-align:center;top:590.62px;font-size:10px;line-height:12px;color:#ffffff;font-weight:bold;letter-spacing:0px;white-space:nowrap;">90,000</div>
<div style="position:absolute;left:546.55px;width:600px;text-align:center;top:659.70px;font-size:10px;line-height:12px;color:#ffffff;font-weight:bold;letter-spacing:0px;white-space:nowrap;">10,000</div>
<div style="position:absolute;left:546.55px;width:600px;text-align:center;top:693.70px;font-size:10px;line-height:12px;color:#ffffff;font-weight:bold;letter-spacing:0px;white-space:nowrap;">20,000</div>
<div style="position:absolute;left:909px;top:588.42px;width:60.9px;height:122.88px;background:#bababa;"></div>
<div style="position:absolute;left:909px;top:670.7399999999999px;width:60.9px;height:40.56px;background:#4285f4;"></div>
<div style="position:absolute;left:639.45px;width:600px;text-align:center;top:590.62px;font-size:10px;line-height:12px;color:#f4f4f4;font-weight:bold;letter-spacing:0px;white-space:nowrap;">80,000</div>
<div style="position:absolute;left:639.45px;width:600px;text-align:center;top:673.53px;font-size:10px;line-height:12px;color:#ffffff;font-weight:bold;letter-spacing:0px;white-space:nowrap;">40,000</div>
<div style="position:absolute;left:546.50px;width:600px;text-align:center;top:715.73px;font-size:12px;line-height:14px;color:#222222;font-weight:normal;letter-spacing:0px;white-space:nowrap;">Nợ phải trả &amp;</div>
<div style="position:absolute;left:546.50px;width:600px;text-align:center;top:727.63px;font-size:12px;line-height:14px;color:#222222;font-weight:normal;letter-spacing:0px;white-space:nowrap;">Vốn chủ sở hữu</div>
<div style="position:absolute;left:639.30px;width:600px;text-align:center;top:715.73px;font-size:12px;line-height:14px;color:#222222;font-weight:normal;letter-spacing:0px;white-space:nowrap;">Tài sản</div>
<div style="position:absolute;left:1013.2px;top:577.4px;width:12px;height:12px;background:#34a853;"></div>
<div style="position:absolute;left:1033.70px;top:576.00px;font-size:10px;line-height:12px;color:#444444;font-weight:normal;letter-spacing:0px;white-space:nowrap;">05 Vốn chủ sở</div>
<div style="position:absolute;left:1033.70px;top:585.60px;font-size:10px;line-height:12px;color:#444444;font-weight:normal;letter-spacing:0px;white-space:nowrap;">hữu</div>
<div style="position:absolute;left:1013.2px;top:607.1px;width:12px;height:12px;background:#ea4335;"></div>
<div style="position:absolute;left:1033.70px;top:605.70px;font-size:10px;line-height:12px;color:#444444;font-weight:normal;letter-spacing:0px;white-space:nowrap;">04 Nợ dài hạn</div>
<div style="position:absolute;left:1013.2px;top:629.2px;width:12px;height:12px;background:#fbbc04;"></div>
<div style="position:absolute;left:1033.70px;top:627.80px;font-size:10px;line-height:12px;color:#444444;font-weight:normal;letter-spacing:0px;white-space:nowrap;">03 Nợ ngắn hạn</div>
<div style="position:absolute;left:1013.2px;top:651.1px;width:12px;height:12px;background:#bababa;"></div>
<div style="position:absolute;left:1033.70px;top:649.70px;font-size:10px;line-height:12px;color:#444444;font-weight:normal;letter-spacing:0px;white-space:nowrap;">02 Tài sản dài hạn</div>
<div style="position:absolute;left:1013.2px;top:673.2px;width:12px;height:12px;background:#4285f4;"></div>
<div style="position:absolute;left:1033.70px;top:671.80px;font-size:10px;line-height:12px;color:#444444;font-weight:normal;letter-spacing:0px;white-space:nowrap;">01 Tài sản ngắn</div>
<div style="position:absolute;left:1033.70px;top:681.40px;font-size:10px;line-height:12px;color:#444444;font-weight:normal;letter-spacing:0px;white-space:nowrap;">hạn</div>
<div style="position:absolute;left:1149px;top:568.1px;width:405px;height:185.0px;background:#ffffff;border:1px solid #9e9e9e;"></div>
<div style="position:absolute;left:1151.30px;top:541.01px;font-size:16px;line-height:18px;color:#000000;font-weight:bold;letter-spacing:0.6px;white-space:nowrap;">Bảng cân đối kế toán từ đầu tháng đến nay</div>
<div style="position:absolute;left:1208.5px;top:584px;width:220px;height:1px;background:#cccccc;"></div>
<div style="position:absolute;right:503.80px;text-align:right;top:577.73px;font-size:12px;line-height:14px;color:#222222;font-weight:normal;letter-spacing:0px;white-space:nowrap;">125,000</div>
<div style="position:absolute;left:1208.5px;top:610px;width:220px;height:1px;background:#cccccc;"></div>
<div style="position:absolute;right:503.80px;text-align:right;top:603.33px;font-size:12px;line-height:14px;color:#222222;font-weight:normal;letter-spacing:0px;white-space:nowrap;">100,000</div>
<div style="position:absolute;left:1208.5px;top:636px;width:220px;height:1px;background:#cccccc;"></div>
<div style="position:absolute;right:503.80px;text-align:right;top:628.93px;font-size:12px;line-height:14px;color:#222222;font-weight:normal;letter-spacing:0px;white-space:nowrap;">75,000</div>
<div style="position:absolute;left:1208.5px;top:661px;width:220px;height:1px;background:#cccccc;"></div>
<div style="position:absolute;right:503.80px;text-align:right;top:654.53px;font-size:12px;line-height:14px;color:#222222;font-weight:normal;letter-spacing:0px;white-space:nowrap;">50,000</div>
<div style="position:absolute;left:1208.5px;top:687px;width:220px;height:1px;background:#cccccc;"></div>
<div style="position:absolute;right:503.80px;text-align:right;top:680.13px;font-size:12px;line-height:14px;color:#222222;font-weight:normal;letter-spacing:0px;white-space:nowrap;">25,000</div>
<div style="position:absolute;right:503.80px;text-align:right;top:705.73px;font-size:12px;line-height:14px;color:#222222;font-weight:normal;letter-spacing:0px;white-space:nowrap;">0</div>
<div style="position:absolute;left:1208.5px;top:712px;width:220px;height:1.3px;background:#333333;"></div>
<div style="position:absolute;left:1242.1px;top:589.52px;width:60.9px;height:122.88px;background:#34a853;border-radius:2px 2px 0 0;"></div>
<div style="position:absolute;left:1242.1px;top:681.68px;width:60.9px;height:30.72px;background:#ea4335;"></div>
<div style="position:absolute;left:1242.1px;top:691.92px;width:60.9px;height:20.48px;background:#fbbc04;"></div>
<div style="position:absolute;left:972.55px;width:600px;text-align:center;top:591.72px;font-size:10px;line-height:12px;color:#ffffff;font-weight:bold;letter-spacing:0px;white-space:nowrap;">90,000</div>
<div style="position:absolute;left:972.55px;width:600px;text-align:center;top:660.80px;font-size:10px;line-height:12px;color:#ffffff;font-weight:bold;letter-spacing:0px;white-space:nowrap;">10,000</div>
<div style="position:absolute;left:972.55px;width:600px;text-align:center;top:694.80px;font-size:10px;line-height:12px;color:#ffffff;font-weight:bold;letter-spacing:0px;white-space:nowrap;">20,000</div>
<div style="position:absolute;left:1335px;top:589.52px;width:60.9px;height:122.88px;background:#bababa;"></div>
<div style="position:absolute;left:1335px;top:671.8399999999999px;width:60.9px;height:40.56px;background:#4285f4;"></div>
<div style="position:absolute;left:1065.45px;width:600px;text-align:center;top:591.72px;font-size:10px;line-height:12px;color:#f4f4f4;font-weight:bold;letter-spacing:0px;white-space:nowrap;">80,000</div>
<div style="position:absolute;left:1065.45px;width:600px;text-align:center;top:674.63px;font-size:10px;line-height:12px;color:#ffffff;font-weight:bold;letter-spacing:0px;white-space:nowrap;">40,000</div>
<div style="position:absolute;left:972.50px;width:600px;text-align:center;top:716.83px;font-size:12px;line-height:14px;color:#222222;font-weight:normal;letter-spacing:0px;white-space:nowrap;">Nợ phải trả &amp;</div>
<div style="position:absolute;left:972.50px;width:600px;text-align:center;top:728.73px;font-size:12px;line-height:14px;color:#222222;font-weight:normal;letter-spacing:0px;white-space:nowrap;">Vốn chủ sở hữu</div>
<div style="position:absolute;left:1065.30px;width:600px;text-align:center;top:716.83px;font-size:12px;line-height:14px;color:#222222;font-weight:normal;letter-spacing:0px;white-space:nowrap;">Tài sản</div>
<div style="position:absolute;left:1439.2px;top:578.5px;width:12px;height:12px;background:#34a853;"></div>
<div style="position:absolute;left:1459.70px;top:577.10px;font-size:10px;line-height:12px;color:#444444;font-weight:normal;letter-spacing:0px;white-space:nowrap;">05 Vốn chủ sở</div>
<div style="position:absolute;left:1459.70px;top:586.70px;font-size:10px;line-height:12px;color:#444444;font-weight:normal;letter-spacing:0px;white-space:nowrap;">hữu</div>
<div style="position:absolute;left:1439.2px;top:608.2px;width:12px;height:12px;background:#ea4335;"></div>
<div style="position:absolute;left:1459.70px;top:606.80px;font-size:10px;line-height:12px;color:#444444;font-weight:normal;letter-spacing:0px;white-space:nowrap;">04 Nợ dài hạn</div>
<div style="position:absolute;left:1439.2px;top:630.3000000000001px;width:12px;height:12px;background:#fbbc04;"></div>
<div style="position:absolute;left:1459.70px;top:628.90px;font-size:10px;line-height:12px;color:#444444;font-weight:normal;letter-spacing:0px;white-space:nowrap;">03 Nợ ngắn hạn</div>
<div style="position:absolute;left:1439.2px;top:652.2px;width:12px;height:12px;background:#bababa;"></div>
<div style="position:absolute;left:1459.70px;top:650.80px;font-size:10px;line-height:12px;color:#444444;font-weight:normal;letter-spacing:0px;white-space:nowrap;">02 Tài sản dài hạn</div>
<div style="position:absolute;left:1439.2px;top:674.3000000000001px;width:12px;height:12px;background:#4285f4;"></div>
<div style="position:absolute;left:1459.70px;top:672.90px;font-size:10px;line-height:12px;color:#444444;font-weight:normal;letter-spacing:0px;white-space:nowrap;">01 Tài sản ngắn</div>
<div style="position:absolute;left:1459.70px;top:682.50px;font-size:10px;line-height:12px;color:#444444;font-weight:normal;letter-spacing:0px;white-space:nowrap;">hạn</div>
</body></html>
